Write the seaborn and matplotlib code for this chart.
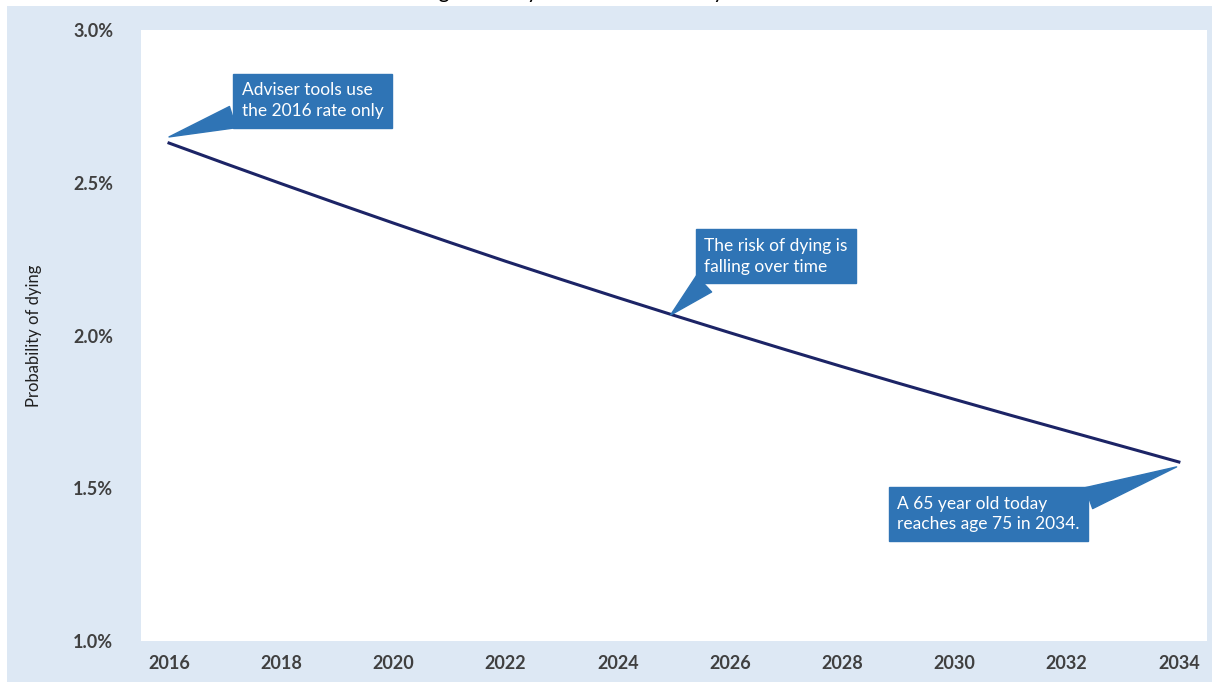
import pandas as pd
import matplotlib
matplotlib.use('Agg')
import matplotlib.pyplot as plt
import seaborn as sns
from matplotlib.patches import Rectangle
from matplotlib.ticker import FuncFormatter

years = list(range(2016, 2035))
prob_dying = [2.630, 2.563, 2.497, 2.432, 2.368, 2.305, 2.243, 2.183, 2.124, 2.066,
              2.009, 1.953, 1.898, 1.844, 1.791, 1.739, 1.688, 1.637, 1.586]
year_ticks = list(range(2016, 2035, 2))
pct_ticks = [1.0, 1.5, 2.0, 2.5, 3.0]

title = 'Falling mortality over time for a 65 year old'
ylabel = 'Probability of dying'
callouts = [
    ('Adviser tools use\nthe 2016 rate only', (2016.0, 2.65), (2017.3, 2.769), (0.02, 0.15)),
    ('The risk of dying is\nfalling over time', (2024.94, 2.067), (2025.54, 2.259), (0.1, 0.12)),
    ('A 65 year old today\nreaches age 75 in 2034.', (2033.96, 1.57), (2028.98, 1.416), (0.92, 0.7)),
]

df = pd.DataFrame({'year': years, 'prob': prob_dying})

plt.rcParams['font.family'] = ['Lato', 'DejaVu Sans']

fig = plt.figure(figsize=(12.13, 6.82), dpi=100, facecolor='white')
fig.patches.append(Rectangle((7 / 1213, 0), 1205 / 1213, 676 / 682,
                             transform=fig.transFigure, facecolor='#dde8f4',
                             edgecolor='none', zorder=-5))
# title sits above the visible area, only descenders show
fig.text(0.485, 1.003, title, ha='center', va='baseline', fontsize=15, color='black')

ax = fig.add_axes([0.1162, 0.0601, 0.8788, 0.8959])
ax.set_zorder(2)
ax.set_facecolor('white')

sns.lineplot(data=df, x='year', y='prob', ax=ax, color='#1c2466', linewidth=2.2)

ax.set_xlim(2015.5, 2034.5)
ax.set_ylim(1.0, 3.0)
ax.set_xticks(year_ticks)
ax.set_yticks(pct_ticks)
ax.yaxis.set_major_formatter(FuncFormatter(lambda v, p: f'{v:.1f}%'))
ax.tick_params(length=0, labelsize=13, labelcolor='#404040')
ax.tick_params(axis='y', pad=20)
ax.tick_params(axis='x', pad=10)
for lab in ax.get_xticklabels() + ax.get_yticklabels():
    lab.set_fontweight('bold')
for s in ax.spines.values():
    s.set_visible(False)
ax.set_xlabel('')
ax.set_ylabel(ylabel, fontsize=12, color='#202020', labelpad=22)

for txt, tip, pos, rel in callouts:
    ax.annotate(txt, xy=tip, xytext=pos, ha='left', va='center',
                fontsize=12.5, color='white', linespacing=1.35,
                bbox=dict(boxstyle='square,pad=0.5', fc='#2f74b5', ec='#2f74b5'),
                arrowprops=dict(arrowstyle='wedge,tail_width=0.8', fc='#2f74b5',
                                ec='#2f74b5', relpos=rel, shrinkA=0, shrinkB=0,
                                mutation_scale=20))

plt.savefig('out.png', dpi=100, facecolor='white')
